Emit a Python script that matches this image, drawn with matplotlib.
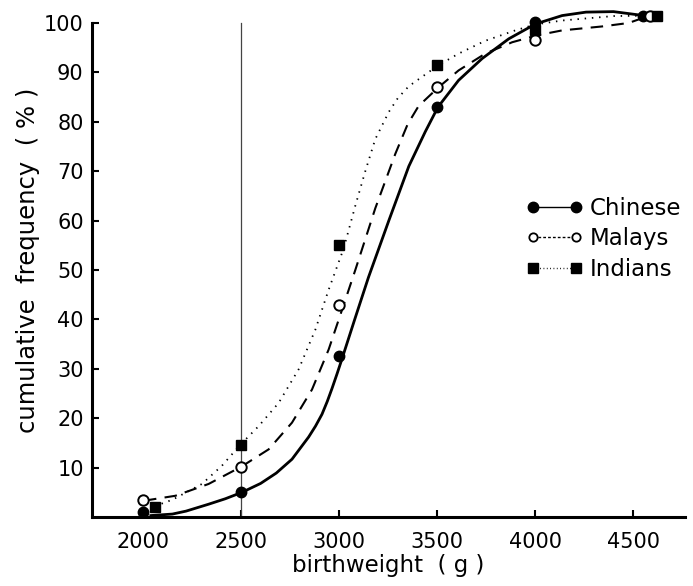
import matplotlib.pyplot as plt
from matplotlib.lines import Line2D

# Puntos medidos (peso al nacer en g, frecuencia acumulada en %)
chinese_x = [2000, 2500, 3000, 3500, 4000, 4550]
chinese_y = [1.0, 5.0, 32.5, 83.0, 100.2, 101.5]
malays_x = [2000, 2500, 3000, 3500, 4000, 4585]
malays_y = [3.4, 10.2, 43.0, 87.0, 96.5, 101.5]
indians_x = [2060, 2500, 3000, 3500, 4000, 4620]
indians_y = [2.0, 14.6, 55.0, 91.5, 98.5, 101.5]

# Curvas dibujadas a mano en el original
chinese_cx = [2040, 2150, 2220, 2335, 2420, 2505, 2600, 2680, 2760, 2845,
              2880, 2913, 2940, 2964, 2990, 3015, 3080, 3150, 3254, 3356,
              3440, 3505, 3610, 3730, 3866, 4002, 4138, 4260, 4400, 4555]
chinese_cy = [0.3, 0.6, 1.2, 2.6, 3.7, 5.0, 6.8, 8.9, 11.7, 16.2,
              18.4, 20.8, 23.4, 26.0, 29.0, 32.0, 40.0, 48.5, 60.0, 71.0,
              78.0, 83.0, 88.4, 92.8, 96.8, 99.8, 101.5, 102.2, 102.3, 101.5]
malays_cx = [2005, 2165, 2335, 2502, 2641, 2760, 2862, 2947, 3020, 3083,
             3185, 3287, 3350, 3406, 3505, 3610, 3746, 3883, 4010, 4138,
             4342, 4477, 4585]
malays_cy = [3.3, 4.3, 6.7, 10.2, 13.7, 19.1, 25.8, 33.9, 42.5, 50.0,
             62.5, 73.5, 79.5, 83.2, 86.9, 90.4, 93.8, 96.1, 97.5, 98.5,
             99.3, 100.0, 101.5]
indians_cx = [2060, 2150, 2301, 2403, 2496, 2590, 2692, 2794, 2879, 2947,
              3024, 3083, 3134, 3185, 3254, 3300, 3356, 3505, 3610, 3746,
              3899, 4002, 4138, 4400, 4620]
indians_cy = [2.2, 3.5, 6.7, 10.4, 14.6, 18.4, 23.1, 29.9, 37.9, 46.0,
              54.4, 63.0, 70.0, 76.5, 82.0, 84.8, 87.2, 91.4, 93.8, 96.4,
              98.5, 99.7, 100.5, 101.4, 101.5]

x_ticks = [2000, 2500, 3000, 3500, 4000, 4500]
y_ticks = [10, 20, 30, 40, 50, 60, 70, 80, 90, 100]

plt.rcParams['font.family'] = ['DejaVu Sans']

fig = plt.figure(figsize=(6.93, 5.86), dpi=100)
ax = fig.add_axes([0.1328, 0.1177, 0.8557, 0.8768])

# Linea vertical de referencia en 2500 g
ax.plot([2500, 2500], [0, 100], color="#444444", linewidth=0.9)

# Curvas
ax.plot(chinese_cx, chinese_cy, color="black", linewidth=2.0,
        linestyle="-")
ax.plot(malays_cx, malays_cy, color="black", linewidth=1.5,
        linestyle=(0, (6, 4)))
ax.plot(indians_cx, indians_cy, color="black", linewidth=1.3,
        linestyle=(0, (0.8, 3.2)))

# Marcadores
ax.plot(chinese_x, chinese_y, "o", color="black", markersize=7.5)
ax.plot(malays_x, malays_y, "o", markerfacecolor="white",
        markeredgecolor="black", markeredgewidth=1.4, markersize=7.5)
ax.plot(indians_x, indians_y, "s", color="black", markersize=7)

ax.set_xlim(1740, 4765)
ax.set_ylim(0, 104)

ax.spines["top"].set_visible(False)
ax.spines["right"].set_visible(False)
ax.spines["left"].set_bounds(0, 100)
ax.spines["left"].set_linewidth(2.2)
ax.spines["bottom"].set_linewidth(2.2)

ax.set_xticks(x_ticks)
ax.set_yticks(y_ticks)
ax.tick_params(axis="both", direction="in", length=5, width=1.5,
               labelsize=15)
ax.tick_params(axis="x", pad=11)
ax.tick_params(axis="y", pad=6)

ax.set_xlabel("birthweight  ( g )", fontsize=16.5, labelpad=1)
ax.set_ylabel("cumulative  frequency  ( % )", fontsize=17.5, labelpad=3)

# Leyenda con un marcador en cada extremo
handles = [
    Line2D([], [], color="black", linewidth=1.0, marker="o",
           markersize=7.5),
    Line2D([], [], color="black", linewidth=1.0, linestyle=(0, (2, 1.5)),
           marker="o", markerfacecolor="white", markeredgewidth=1.3,
           markersize=6),
    Line2D([], [], color="black", linewidth=1.0, linestyle=(0, (0.6, 1.8)),
           marker="s", markersize=6.5),
]
fig.legend(handles, ["Chinese", "Malays", "Indians"], numpoints=2,
           loc="upper left", bbox_to_anchor=(0.759, 0.664), frameon=False,
           fontsize=16.5, handlelength=2.5, handletextpad=0.3,
           labelspacing=0.32, borderpad=0, borderaxespad=0)

fig.savefig("out.png", dpi=100)
plt.close(fig)
